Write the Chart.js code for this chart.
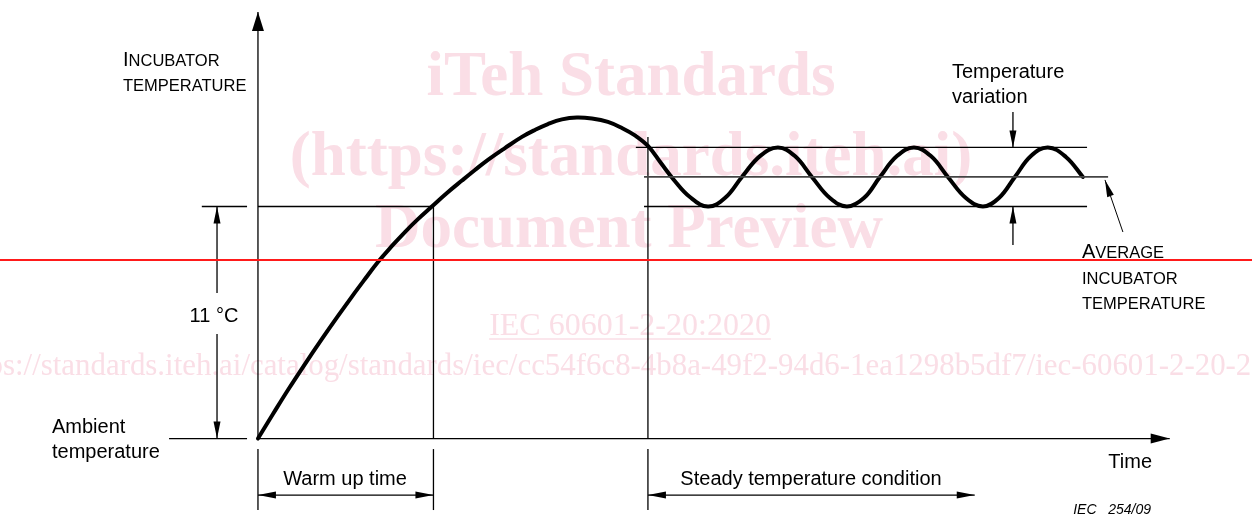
<!DOCTYPE html>
<html>
<head>
<meta charset="utf-8">
<script src="https://cdn.jsdelivr.net/npm/chart.js@4"></script>
<style>
  html, body { margin: 0; padding: 0; background: #fff; }
  #wrap { width: 1252px; height: 517px; position: relative; }
</style>
</head>
<body>
<div id="wrap"><canvas id="chart"></canvas></div>
<script>
// Incubator temperature curve.
// time: arbitrary units (0 = switch on, 45 = end of warm up, 100 = steady condition starts)
// temp: degrees C above ambient
const warmUpTime = [0, 3.85, 7.69, 12.05, 16.41, 20.26, 24.1, 27.44, 30.77, 34.36, 37.69, 41.03, 44.6,
                    48.46, 52.31, 55.64, 58.97, 63.33, 67.69, 71.03, 74.36, 77.95, 81.79, 85.64, 89.74,
                    93.33, 96.67];
const warmUpTemp = [0, 1.16, 2.3, 3.53, 4.72, 5.74, 6.73, 7.56, 8.37, 9.13, 9.79, 10.4, 11.0,
                    11.64, 12.23, 12.73, 13.21, 13.77, 14.3, 14.63, 14.91, 15.13, 15.22, 15.17, 15.01,
                    14.72, 14.37];
const steadyTime = [100, 103.33, 106.67, 110.77, 115.38, 119.74, 124.1, 128.72, 133.33, 137.69, 142.05,
                    146.67, 151.03, 155.38, 159.49, 163.85, 168.21, 172.56, 176.92, 181.54, 185.9, 190.0,
                    194.1, 198.21, 202.56, 207.18, 211.54];
const steadyTemp = [13.87, 13.06, 12.26, 11.45, 11.0, 11.4, 12.4, 13.39, 13.8, 13.39, 12.4,
                    11.4, 11.0, 11.4, 12.4, 13.39, 13.8, 13.39, 12.4, 11.4, 11.0, 11.4,
                    12.4, 13.39, 13.8, 13.35, 12.4];

const ambientTemp = 0;
const markTemp = 11;          // the "11 °C" mark
const variationTop = 13.8;
const averageTemp = 12.4;
const variationBottom = 11.0;
const warmUpEnd = 45;
const steadyStart = 100;
const steadyArrowEnd = 183.8;
const timeAxisEnd = 233.8;
const tempAxisEnd = 20.22;

const watermarkLines = ['iTeh Standards', '(https://standards.iteh.ai)', 'Document Preview'];
const watermarkStd = 'IEC 60601-2-20:2020';
const watermarkUrl = 'https://standards.iteh.ai/catalog/standards/iec/cc54f6c8-4b8a-49f2-94d6-1ea1298b5df7/iec-60601-2-20-2020';

const SANS = '"Liberation Sans", Arial, sans-serif';
const SERIF = '"Liberation Serif", "Times New Roman", serif';
const PINK = 'rgb(250,222,230)';

function arrowHead(ctx, x1, y1, x2, y2, len, half) {
    const a = Math.atan2(y2 - y1, x2 - x1);
    ctx.beginPath();
    ctx.moveTo(x2, y2);
    ctx.lineTo(x2 - len * Math.cos(a) + half * Math.sin(a), y2 - len * Math.sin(a) - half * Math.cos(a));
    ctx.lineTo(x2 - len * Math.cos(a) - half * Math.sin(a), y2 - len * Math.sin(a) + half * Math.cos(a));
    ctx.closePath();
    ctx.fill();
}

function smallCaps(ctx, parts, x, y) {
    let cx = x;
    parts.forEach(([txt, size]) => {
        ctx.font = size + 'px ' + SANS;
        ctx.fillText(txt, cx, y);
        cx += ctx.measureText(txt).width;
    });
}

const watermarkPlugin = {
    id: 'watermark',
    beforeDatasetsDraw(chart) {
        const ctx = chart.ctx;
        ctx.save();
        ctx.fillStyle = PINK;
        ctx.strokeStyle = PINK;
        ctx.textAlign = 'center';
        ctx.textBaseline = 'alphabetic';
        ctx.font = 'bold 63px ' + SERIF;
        ctx.fillText(watermarkLines[0], 631, 95);
        ctx.fillText(watermarkLines[1], 631, 175);
        ctx.fillText(watermarkLines[2], 629, 247);

        ctx.font = '32px ' + SERIF;
        ctx.fillText(watermarkStd, 630, 335);
        const w = ctx.measureText(watermarkStd).width;
        ctx.lineWidth = 1.5;
        ctx.beginPath();
        ctx.moveTo(630 - w / 2, 339);
        ctx.lineTo(630 + w / 2, 339);
        ctx.stroke();

        // long catalogue link, its visible part runs edge to edge
        ctx.textAlign = 'left';
        ctx.font = '30px ' + SERIF;
        const visible = watermarkUrl.slice(4, watermarkUrl.length - 3);
        const size = 30 * 1249 / ctx.measureText(visible).width;
        ctx.font = size + 'px ' + SERIF;
        ctx.fillText(watermarkUrl, 3 - ctx.measureText('http').width, 375);
        ctx.restore();
    }
};

const diagramPlugin = {
    id: 'diagram',
    afterDatasetsDraw(chart) {
        const ctx = chart.ctx;
        const X = t => chart.scales.x.getPixelForValue(t);
        const Y = v => chart.scales.y.getPixelForValue(v);
        const line = (t1, v1, t2, v2) => {
            ctx.beginPath();
            ctx.moveTo(X(t1), Y(v1));
            ctx.lineTo(X(t2), Y(v2));
            ctx.stroke();
        };
        const arrow = (t1, v1, t2, v2, len, half) => {
            line(t1, v1, t2, v2);
            arrowHead(ctx, X(t1), Y(v1), X(t2), Y(v2), len, half);
        };
        const dimArrow = (t1, v1, t2, v2) => {
            line(t1, v1, t2, v2);
            arrowHead(ctx, X(t2), Y(v2), X(t1), Y(v1), 18, 3.5);
            arrowHead(ctx, X(t1), Y(v1), X(t2), Y(v2), 18, 3.5);
        };
        const extLow = -0.5, extBottom = -3.39, dimLevel = -2.68;

        ctx.save();
        ctx.strokeStyle = '#000';
        ctx.fillStyle = '#000';
        ctx.lineWidth = 1.3;

        // axes
        arrow(0, ambientTemp, 0, tempAxisEnd, 19, 6);
        arrow(0, ambientTemp, timeAxisEnd, ambientTemp, 19, 5);

        // ambient and 11 °C references
        line(-22.8, ambientTemp, -2.8, ambientTemp);
        line(-14.4, markTemp, -2.8, markTemp);
        line(0, markTemp, warmUpEnd, markTemp);
        arrow(-10.5, 6.9, -10.5, markTemp, 17, 3.5);
        arrow(-10.5, 4.95, -10.5, ambientTemp, 17, 3.5);

        // warm up and steady boundaries
        line(warmUpEnd, markTemp, warmUpEnd, ambientTemp);
        line(steadyStart, 14.29, steadyStart, ambientTemp);
        [0, warmUpEnd, steadyStart].forEach(t => line(t, extLow, t, extBottom));
        dimArrow(0, dimLevel, warmUpEnd, dimLevel);
        dimArrow(steadyStart, dimLevel, steadyArrowEnd, dimLevel);

        // temperature variation band
        line(96.9, variationTop, 212.6, variationTop);
        line(99, variationBottom, 212.6, variationBottom);
        ctx.save();
        ctx.strokeStyle = '#444';
        ctx.lineWidth = 1.8;
        line(99, averageTemp, 218, averageTemp);
        ctx.restore();
        arrow(193.6, 15.48, 193.6, variationTop, 17, 3.5);
        arrow(193.6, 9.17, 193.6, variationBottom, 17, 3.5);
        ctx.lineWidth = 1;
        arrow(221.8, 9.79, 217.2, 12.26, 17, 3.5);

        // texts
        ctx.textBaseline = 'alphabetic';
        ctx.textAlign = 'left';
        smallCaps(ctx, [['I', 20], ['NCUBATOR', 16.5]], 123, 66);
        smallCaps(ctx, [['TEMPERATURE', 16.5]], 123, 91);
        smallCaps(ctx, [['A', 20], ['VERAGE', 16.5]], 1082, 258);
        smallCaps(ctx, [['INCUBATOR', 16.5]], 1082, 284);
        smallCaps(ctx, [['TEMPERATURE', 16.5]], 1082, 309);

        ctx.font = '20px ' + SANS;
        ctx.fillText('Ambient', 52, 433);
        ctx.fillText('temperature', 52, 458);
        ctx.fillText('Temperature', 952, 78);
        ctx.fillText('variation', 952, 103);
        ctx.textAlign = 'center';
        ctx.fillText('11 \u00B0C', 214, 322);
        ctx.fillText('Warm up time', 345, 485);
        ctx.fillText('Steady temperature condition', 811, 485);
        ctx.textAlign = 'right';
        ctx.fillText('Time', 1152, 468);
        ctx.font = 'italic 14px ' + SANS;
        ctx.fillText('IEC   254/09', 1151, 514);
        ctx.restore();
    },
    afterDraw(chart) {
        // red horizontal rule across the page
        const ctx = chart.ctx;
        const y = chart.scales.y.getPixelForValue(8.46);
        ctx.save();
        ctx.strokeStyle = '#ff1a1a';
        ctx.lineWidth = 2;
        ctx.beginPath();
        ctx.moveTo(0, y);
        ctx.lineTo(chart.width, y);
        ctx.stroke();
        ctx.restore();
    }
};

const timeValues = warmUpTime.concat(steadyTime);
const tempValues = warmUpTemp.concat(steadyTemp);
const curve = timeValues.map((t, i) => ({ x: t, y: tempValues[i] }));

new Chart(document.getElementById('chart'), {
    type: 'line',
    data: {
        datasets: [{
            data: curve,
            borderColor: '#000',
            borderWidth: 4,
            pointRadius: 0,
            fill: false,
            tension: 0.4,
            borderCapStyle: 'round',
            borderJoinStyle: 'round'
        }]
    },
    options: {
        responsive: true,
        maintainAspectRatio: false,
        animation: false,
        layout: { padding: 0 },
        plugins: { legend: { display: false }, tooltip: { enabled: false } },
        scales: {
            x: { type: 'linear', display: false, min: -66.15, max: 254.9 },
            y: { type: 'linear', display: false, min: -3.72, max: 20.79 }
        }
    },
    plugins: [watermarkPlugin, diagramPlugin]
});
</script>
</body>
</html>
